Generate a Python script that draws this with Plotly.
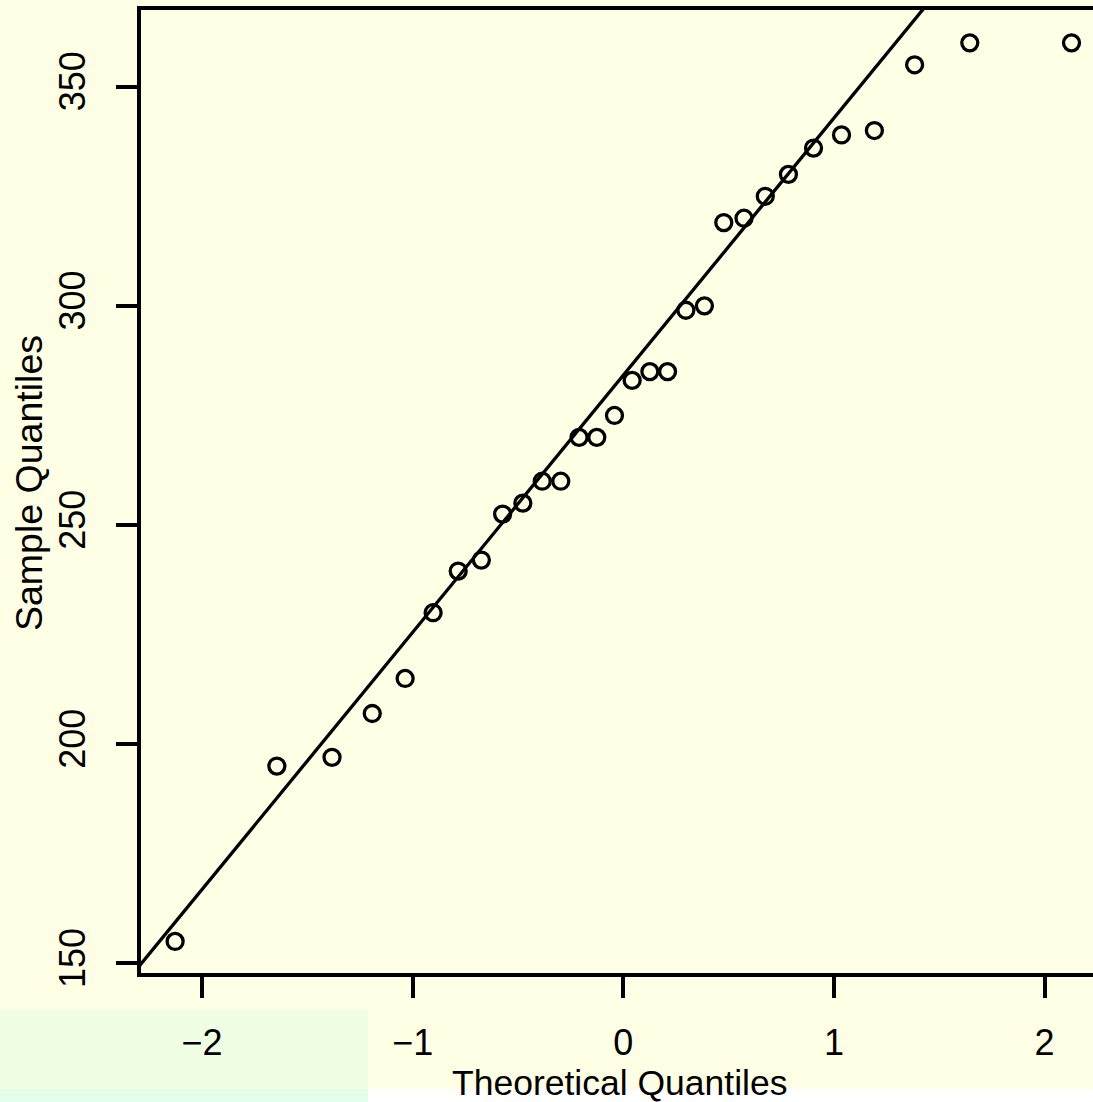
import numpy as np
import plotly.graph_objects as go

# Theoretical quantiles (normal scores for n = 30)
theoretical = [-2.128, -1.645, -1.383, -1.192, -1.036, -0.903, -0.784, -0.674,
               -0.573, -0.477, -0.385, -0.297, -0.210, -0.126, -0.042,
               0.042, 0.126, 0.210, 0.297, 0.385, 0.477, 0.573, 0.674,
               0.784, 0.903, 1.036, 1.192, 1.383, 1.645, 2.128]
# Sample quantiles
sample = [155, 195, 197, 207, 215, 230, 239.5, 242, 252.5, 255,
          260, 260, 270, 270, 275, 283, 285, 285, 299, 300,
          319, 320, 325, 330, 336, 339, 340, 355, 360, 360]

x_ticks = [-2, -1, 0, 1, 2]
x_tick_labels = ["\u22122", "\u22121", "0", "1", "2"]
y_ticks = [150, 200, 250, 300, 350]
y_tick_labels = ["150", "200", "250", "300", "350"]

# qqline through the 1st and 3rd quartiles
yq = np.quantile(sample, [0.25, 0.75])
xq = np.array([-0.6744898, 0.6744898])
slope = (yq[1] - yq[0]) / (xq[1] - xq[0])
intercept = yq[0] - slope * xq[0]
line_x = np.array([-3.0, 3.0])
line_y = intercept + slope * line_x

W, H = 1093, 1102
ML, MT, MB, MR = 141, 10, 129, 0
PW, PH = W - ML - MR, H - MT - MB

def px(x):
    return (x - ML) / PW

def py(y):
    return (H - MB - y) / PH

BG = "#FFFFE5"
FONT = "Liberation Sans, Arial, Helvetica, sans-serif"

fig = go.Figure()
fig.add_trace(go.Scatter(x=line_x, y=line_y, mode="lines",
                         line=dict(color="black", width=3.3), hoverinfo="skip",
                         showlegend=False))
fig.add_trace(go.Scatter(x=theoretical, y=sample, mode="markers",
                         marker=dict(symbol="circle-open", size=16, color="black",
                                     line=dict(width=3.3, color="black")),
                         showlegend=False, cliponaxis=False))

shapes = [
    dict(type="rect", xref="paper", yref="paper", x0=px(0), x1=px(368),
         y0=py(1089), y1=py(1010), fillcolor="#F0FFE4", line=dict(width=0), layer="below"),
    dict(type="rect", xref="paper", yref="paper", x0=px(0), x1=px(368),
         y0=py(1102), y1=py(1089), fillcolor="#E4FFE9", line=dict(width=0), layer="below"),
    dict(type="rect", xref="paper", yref="paper", x0=px(368), x1=px(1093),
         y0=py(1102), y1=py(1089), fillcolor="#FFFFFF", line=dict(width=0), layer="below"),
]

annotations = [
    dict(text="Theoretical Quantiles", xref="paper", yref="paper",
         x=px(619), y=py(1083), xanchor="center", yanchor="middle",
         showarrow=False, font=dict(family=FONT, size=35.5, color="black")),
    dict(text="Sample Quantiles", xref="paper", yref="paper",
         x=px(29), y=py(483), xanchor="center", yanchor="middle", textangle=-90,
         showarrow=False, font=dict(family=FONT, size=37.5, color="black")),
]

fig.update_layout(
    width=W, height=H,
    margin=dict(l=ML, r=MR, t=MT, b=MB, pad=0),
    paper_bgcolor=BG, plot_bgcolor=BG,
    shapes=shapes, annotations=annotations,
    font=dict(family=FONT, size=36, color="black"),
    xaxis=dict(range=[-2.29, 2.23], tickvals=x_ticks, ticktext=x_tick_labels,
               showgrid=False, zeroline=False, showline=True, linecolor="black",
               linewidth=4, mirror=True, ticks="outside", ticklen=21, tickwidth=3.5,
               tickcolor="black", ticklabelstandoff=14,
               tickfont=dict(family=FONT, size=36, color="black")),
    yaxis=dict(range=[147.8, 367.5], tickvals=y_ticks, ticktext=y_tick_labels,
               showgrid=False, zeroline=False, showline=True, linecolor="black",
               linewidth=4, mirror=False, ticks="outside", ticklen=21, tickwidth=3.5,
               tickcolor="black", tickangle=-90, ticklabelstandoff=17,
               tickfont=dict(family=FONT, size=36, color="black")),
)

fig.write_html(
    "out.html",
    config={"displayModeBar": False},
    post_script="document.body.style.margin='0';document.body.style.overflow='hidden';",
)
